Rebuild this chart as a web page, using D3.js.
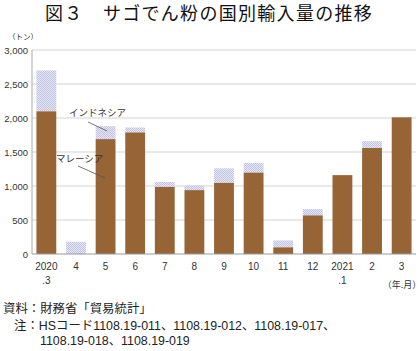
<!DOCTYPE html>
<html>
<head>
<meta charset="utf-8">
<script src="https://cdn.jsdelivr.net/npm/d3@7"></script>
<style>
  body { margin: 0; background: #fff; }
  svg { display: block; font-family: "Liberation Sans", "Noto Sans CJK JP", sans-serif; }
</style>
</head>
<body>
<svg id="chart" width="420" height="351"></svg>
<script>
//  data
const months = ["2020\n.3", "4", "5", "6", "7", "8", "9", "10", "11", "12", "2021\n.1", "2", "3"];
const malaysia = [2100, 0, 1690, 1790, 990, 940, 1050, 1200, 100, 570, 1160, 1560, 2010];
const indonesia = [600, 180, 190, 70, 70, 70, 210, 140, 100, 90, 0, 100, 0];
const yTicks = [0, 500, 1000, 1500, 2000, 2500, 3000];

const svg = d3.select("#chart");
const margin = {top: 50, right: 4, bottom: 97, left: 32};
const w = 420, h = 351;
const jp = "'Noto Sans CJK JP'";

const x = d3.scaleBand().domain(months).range([margin.left, w - margin.right]).paddingInner(0.33).paddingOuter(0.15);
const y = d3.scaleLinear().domain([0, 3000]).range([h - margin.bottom, margin.top]);

//  pattern for indonesia (fine checker)
const defs = svg.append("defs");
const pat = defs.append("pattern").attr("id", "dots").attr("patternUnits", "userSpaceOnUse")
  .attr("width", 2).attr("height", 2);
pat.append("rect").attr("width", 2).attr("height", 2).attr("fill", "#e6e7f4");
pat.append("rect").attr("width", 1).attr("height", 1).attr("fill", "#c0c3e5");
pat.append("rect").attr("x", 1).attr("y", 1).attr("width", 1).attr("height", 1).attr("fill", "#c0c3e5");

//  title
svg.append("text")
  .attr("x", 45).attr("y", 20)
  .style("font-family", jp)
  .style("font-weight", 400)
  .style("font-size", "18px")
  .style("letter-spacing", "1.3px")
  .style("fill", "#111")
  .text("図３　サゴでん粉の国別輸入量の推移");

svg.append("text")
  .attr("x", 23).attr("y", 40)
  .attr("text-anchor", "middle")
  .style("font-family", jp)
  .style("font-size", "7.5px")
  .style("fill", "#333")
  .text("（トン）");

//  grid
svg.selectAll(".grid").data(yTicks.filter(d => d > 0)).enter().append("line")
  .attr("x1", margin.left).attr("x2", w - margin.right)
  .attr("y1", d => y(d)).attr("y2", d => y(d))
  .style("stroke", "#d4d4d4").style("stroke-width", 1.2);

svg.selectAll(".ytick").data(yTicks).enter().append("text")
  .attr("x", 28).attr("y", d => y(d) + 3.5)
  .attr("text-anchor", "end")
  .style("font-size", "9.5px")
  .style("fill", "#333")
  .text(d => d3.format(",")(d));

svg.append("line")
  .attr("x1", margin.left).attr("x2", margin.left)
  .attr("y1", y(3000)).attr("y2", y(0))
  .style("stroke", "#aaa");

//  bars
svg.selectAll(".mal").data(malaysia).enter().append("rect")
  .attr("x", (d, i) => x(months[i]))
  .attr("width", x.bandwidth())
  .attr("y", d => y(d))
  .attr("height", d => y(0) - y(d))
  .attr("fill", "#976535");

svg.selectAll(".ind").data(indonesia).enter().append("rect")
  .attr("x", (d, i) => x(months[i]))
  .attr("width", x.bandwidth())
  .attr("y", (d, i) => y(malaysia[i] + d))
  .attr("height", (d, i) => y(malaysia[i]) - y(malaysia[i] + d))
  .attr("fill", "url(#dots)");

svg.append("line")
  .attr("x1", margin.left).attr("x2", w - margin.right)
  .attr("y1", y(0)).attr("y2", y(0))
  .style("stroke", "#999");

//  x labels
months.forEach(m => {
  const parts = m.split("\n");
  parts.forEach((p, j) => {
    svg.append("text")
      .attr("x", x(m) + x.bandwidth() / 2)
      .attr("y", y(0) + 16 + j * 14)
      .attr("text-anchor", "middle")
      .style("font-size", "10px")
      .style("fill", "#333")
      .text(p);
  });
});

svg.append("text")
  .attr("x", 402).attr("y", 288)
  .attr("text-anchor", "middle")
  .style("font-family", jp)
  .style("font-size", "9px")
  .style("fill", "#333")
  .text("（年.月）");

//  annotations
svg.append("text").attr("x", 69).attr("y", 116)
  .style("font-family", jp).style("font-size", "9.5px").style("fill", "#333")
  .text("インドネシア");
svg.append("line").attr("x1", 88).attr("y1", 122).attr("x2", 107).attr("y2", 131)
  .style("stroke", "#555").style("stroke-width", 0.8);
svg.append("text").attr("x", 56).attr("y", 162)
  .style("font-family", jp).style("font-size", "9.5px").style("fill", "#333")
  .text("マレーシア");
svg.append("line").attr("x1", 78).attr("y1", 166).attr("x2", 105).attr("y2", 178)
  .style("stroke", "#555").style("stroke-width", 0.8);

//  footer
const foot = [
  {x: 3, y: 313, t: "資料：財務省「貿易統計」"},
  {x: 14, y: 330, t: "注：HSコード1108.19-011、1108.19-012、1108.19-017、"},
  {x: 40, y: 345, t: "1108.19-018、1108.19-019"}
];
foot.forEach(f => {
  svg.append("text").attr("x", f.x).attr("y", f.y)
    .style("font-family", "'Liberation Sans', 'Noto Sans CJK JP'")
    .style("font-size", "12.4px")
    .style("fill", "#222")
    .text(f.t);
});
</script>
</body>
</html>
